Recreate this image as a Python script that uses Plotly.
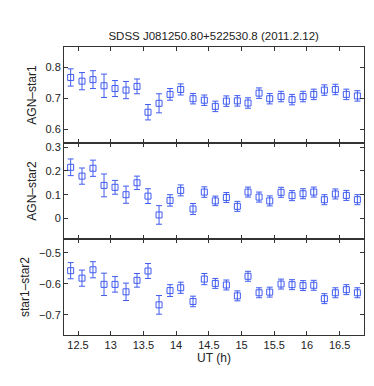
import plotly.graph_objects as go
from plotly.subplots import make_subplots

# UT hours of each frame
ut = [12.388, 12.561, 12.729, 12.898, 13.066, 13.234, 13.402, 13.570, 13.739,
      13.907, 14.070, 14.258, 14.431, 14.599, 14.768, 14.936, 15.099, 15.268,
      15.431, 15.604, 15.772, 15.940, 16.104, 16.266, 16.434, 16.602, 16.771]

agn_star1 = [0.768, 0.756, 0.761, 0.741, 0.732, 0.727, 0.739, 0.655, 0.684,
             0.713, 0.729, 0.699, 0.694, 0.674, 0.691, 0.692, 0.685, 0.717,
             0.699, 0.706, 0.696, 0.706, 0.713, 0.727, 0.729, 0.713, 0.708]
agn_star1_err = [0.028, 0.028, 0.029, 0.038, 0.026, 0.028, 0.024, 0.025, 0.031,
                 0.019, 0.018, 0.017, 0.017, 0.017, 0.017, 0.017, 0.017, 0.017,
                 0.017, 0.017, 0.017, 0.017, 0.017, 0.017, 0.017, 0.017, 0.017]

agn_star2 = [0.215, 0.178, 0.211, 0.139, 0.131, 0.100, 0.150, 0.094, 0.015,
             0.076, 0.118, 0.040, 0.111, 0.074, 0.088, 0.051, 0.111, 0.090,
             0.074, 0.110, 0.096, 0.104, 0.111, 0.079, 0.103, 0.097, 0.079]
agn_star2_err = [0.035, 0.034, 0.034, 0.048, 0.029, 0.036, 0.028, 0.031, 0.039,
                 0.024, 0.023, 0.023, 0.022, 0.020, 0.021, 0.021, 0.021, 0.021,
                 0.021, 0.021, 0.021, 0.021, 0.021, 0.021, 0.021, 0.021, 0.021]

star1_star2 = [-0.558, -0.582, -0.555, -0.602, -0.602, -0.626, -0.589, -0.559, -0.668,
               -0.622, -0.613, -0.657, -0.585, -0.599, -0.604, -0.639, -0.576, -0.629,
               -0.627, -0.601, -0.603, -0.606, -0.605, -0.648, -0.629, -0.619, -0.629]
star1_star2_err = [0.026, 0.026, 0.026, 0.036, 0.025, 0.028, 0.022, 0.024, 0.030,
                   0.019, 0.018, 0.017, 0.018, 0.016, 0.016, 0.016, 0.016, 0.016,
                   0.016, 0.016, 0.016, 0.016, 0.016, 0.016, 0.016, 0.016, 0.016]

panels = [
    ("AGN–star1", agn_star1, agn_star1_err, [0.555, 0.867], [0.6, 0.7, 0.8]),
    ("AGN–star2", agn_star2, agn_star2_err, [-0.086, 0.317], [0, 0.1, 0.2, 0.3]),
    ("star1–star2", star1_star2, star1_star2_err, [-0.765, -0.456], [-0.7, -0.6, -0.5]),
]

blue = "rgb(64,92,240)"
axcol = "#333333"

fig = make_subplots(rows=3, cols=1, shared_xaxes=True, vertical_spacing=0)

for i, (name, vals, errs, yr, yt) in enumerate(panels):
    fig.add_trace(go.Scatter(
        x=ut, y=vals, mode="markers",
        marker=dict(symbol="square-open", size=6, color=blue, line=dict(width=1, color=blue)),
        error_y=dict(type="data", array=errs, visible=True, color=blue, thickness=1, width=3),
        showlegend=False), row=i + 1, col=1)
    fig.update_yaxes(range=yr, tickvals=yt,
                     ticktext=[("%g" % v).replace("-", "−") for v in yt],
                     title=dict(text=name, standoff=6, font=dict(size=12)),
                     row=i + 1, col=1)

fig.update_xaxes(range=[12.286, 16.872], tickvals=[12.5, 13, 13.5, 14, 14.5, 15, 15.5, 16, 16.5],
                 ticks="inside", ticklen=4, tickcolor=axcol, showline=True, linecolor=axcol,
                 linewidth=1, mirror="allticks", showgrid=False, zeroline=False)
fig.update_xaxes(title=dict(text="UT (h)", standoff=2, font=dict(size=12)), row=3, col=1)
fig.update_yaxes(ticks="inside", ticklen=4, tickcolor=axcol, showline=True, linecolor=axcol,
                 linewidth=1, mirror="allticks", showgrid=False, zeroline=False)

fig.update_layout(
    width=374, height=386,
    margin=dict(l=56, r=18, t=39, b=59),
    plot_bgcolor="white", paper_bgcolor="white",
    font=dict(family="Liberation Sans, Arial, sans-serif", size=11, color="#222222"),
    title=dict(text="SDSS J081250.80+522530.8 (2011.2.12)", x=0.55, xanchor="center",
               y=1 - 28 / 386, yanchor="middle", font=dict(size=11.5)),
)

fig.write_html("out.html")
